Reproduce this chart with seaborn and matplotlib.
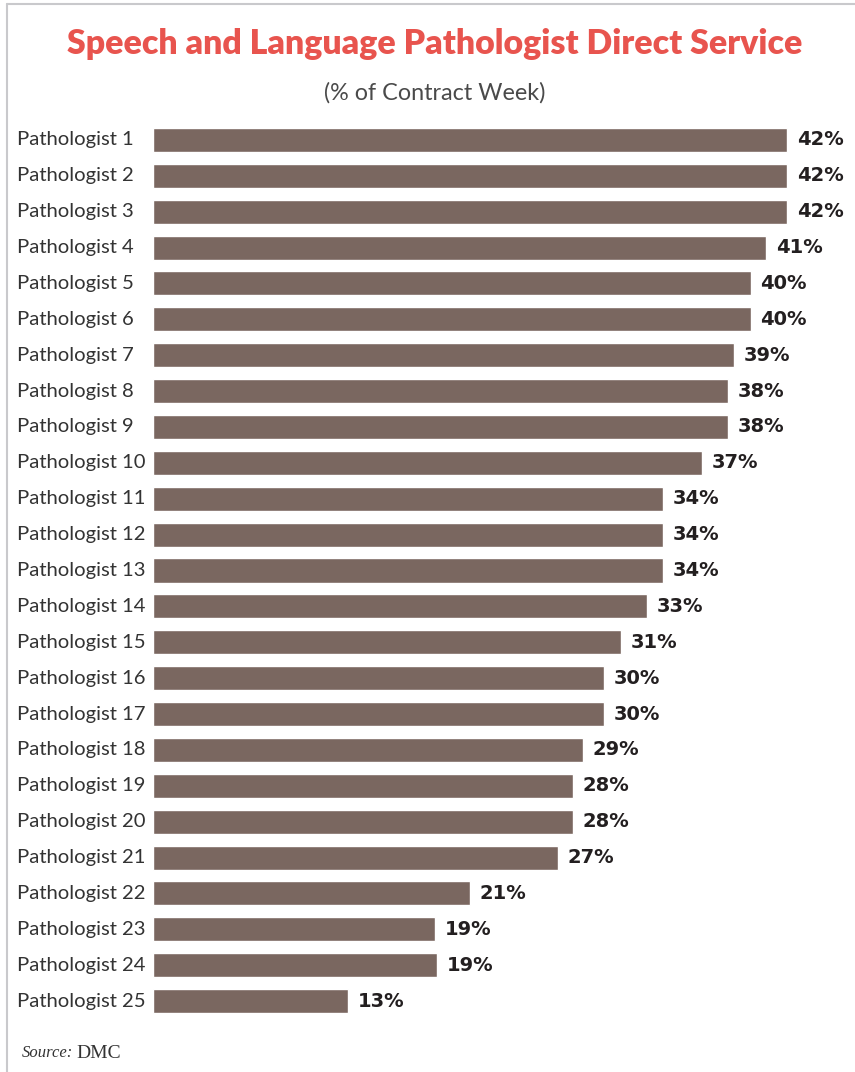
import matplotlib
matplotlib.use("Agg")
import matplotlib.pyplot as plt
import matplotlib.transforms as mtransforms
from matplotlib.lines import Line2D
import seaborn as sns
import pandas as pd

# ---- data ----
categories = [f"Pathologist {i}" for i in range(1, 26)]
values = [42.0, 42.0, 42.0, 40.6, 39.6, 39.6, 38.5, 38.1, 38.1, 36.4,
          33.8, 33.8, 33.8, 32.7, 31.0, 29.9, 29.9, 28.5, 27.8, 27.8,
          26.8, 21.0, 18.7, 18.8, 12.9]
value_labels = ["42%", "42%", "42%", "41%", "40%", "40%", "39%", "38%", "38%", "37%",
                "34%", "34%", "34%", "33%", "31%", "30%", "30%", "29%", "28%", "28%",
                "27%", "21%", "19%", "19%", "13%"]
title = "Speech and Language Pathologist Direct Service"
subtitle = "(% of Contract Week)"

df = pd.DataFrame({"name": categories, "value": values})

sns.set_theme(style="white")
plt.rcParams["font.family"] = ["Lato", "DejaVu Sans"]

W, H = 855, 1072
fig = plt.figure(figsize=(W / 100, H / 100), dpi=100)
fig.patch.set_facecolor("white")

ax = fig.add_axes([153 / W, 1 - 1019 / H, (W - 153) / W, (1019 - 122) / H])
sns.barplot(data=df, x="value", y="name", orient="h", color="#7a6760",
            saturation=1, width=0.67, ax=ax)
ax.set_xlim(0, (W - 153) / 15.095)
ax.set_ylim(24.5, -0.5)
for s in ax.spines.values():
    s.set_visible(False)
ax.set_xticks([])
ax.set_yticks([])
ax.set_xlabel("")
ax.set_ylabel("")
ax.set_facecolor("none")

ax.bar_label(ax.containers[0], labels=value_labels, padding=7,
             fontsize=14, fontweight="bold", color="#231f20",
             family=["DejaVu Sans"])

trans = mtransforms.blended_transform_factory(fig.transFigure, ax.transData)
for i, name in enumerate(categories):
    ax.text(17 / W, i, name, transform=trans, ha="left", va="center",
            fontsize=14.6, color="#333333")

fig.text(435 / W, 1 - 44 / H, title, ha="center", va="center",
         fontsize=24.4, fontweight="heavy", color="#e8544e")
fig.text(435 / W, 1 - 93 / H, subtitle, ha="center", va="center",
         fontsize=16.8, fontweight="normal", color="#4a4a4a")

fig.text(22 / W, 1 - 1053 / H, "Source:", ha="left", va="center",
         fontsize=12, fontstyle="italic", family=["Liberation Serif"], color="#333333")
fig.text(76 / W, 1 - 1053 / H, "DMC", ha="left", va="center",
         fontsize=14, family=["Liberation Serif"], color="#333333")

# frame lines (top and left)
fig.add_artist(Line2D([7 / W, 1], [1 - 4 / H, 1 - 4 / H], transform=fig.transFigure,
                      color="#c9c9cc", lw=1.5))
fig.add_artist(Line2D([7 / W, 7 / W], [0, 1 - 4 / H], transform=fig.transFigure,
                      color="#c9c9cc", lw=1.5))

fig.savefig("out.png", dpi=100, facecolor="white")
